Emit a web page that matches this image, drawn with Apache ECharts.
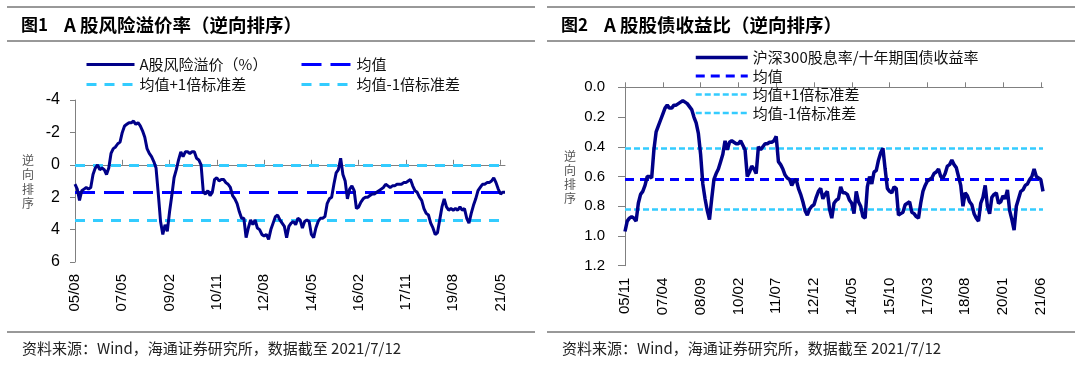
<!DOCTYPE html>
<html><head><meta charset="utf-8">
<script src="https://cdn.jsdelivr.net/npm/echarts@6/dist/echarts.min.js"></script>
<style>html,body{margin:0;padding:0;background:#fff;}#c{width:1080px;height:365px;}</style>
</head><body><div id="c"></div>
<script>
// ---------- Figure 1: A-share equity risk premium (reversed) ----------
const erpStartYear = 2005, erpStartMonth = 8;
const erpValues = [
 1.2, 1.5, 2.2, 1.6, 1.5, 1.4, 1.5, 1.4, 0.6, 0.2,
 0.0, 0.3, 0.2, 0.3, 0.6, 0.2, -0.7, -1.0, -1.1, -1.3,
 -1.4, -2.0, -2.4, -2.5, -2.6, -2.6, -2.7, -2.5, -2.6, -2.4,
 -2.1, -1.7, -1.0, -0.7, -0.5, -0.2, 0.2, 1.8, 3.5, 4.3,
 3.7, 4.1, 2.9, 1.9, 0.8, 0.3, -0.3, -0.8, -0.5, -0.8,
 -0.8, -0.7, -0.8, -0.8, -0.4, -0.3, 0.0, 1.7, 1.8, 1.6,
 1.9, 1.7, 0.9, 0.8, 1.0, 0.9, 0.9, 1.1, 1.2, 1.4,
 1.9, 2.1, 2.4, 2.9, 3.3, 3.3, 4.5, 3.9, 3.4, 3.7,
 3.4, 3.9, 4.0, 4.3, 4.4, 4.3, 4.6, 4.0, 3.6, 3.2,
 3.1, 3.4, 3.6, 3.8, 4.5, 3.8, 3.6, 3.5, 3.7, 3.3,
 3.4, 3.9, 3.5, 3.4, 3.5, 4.3, 4.5, 3.9, 3.5, 3.3,
 3.3, 3.2, 2.4, 2.1, 2.0, 1.2, 0.5, 0.3, -0.4, 0.6,
 1.0, 2.1, 1.5, 1.3, 1.6, 2.7, 2.6, 2.3, 2.1, 2.0,
 2.0, 1.9, 1.8, 1.8, 1.7, 1.6, 1.5, 1.4, 1.2, 1.3,
 1.4, 1.3, 1.3, 1.2, 1.2, 1.2, 1.1, 1.1, 1.0, 0.9,
 1.3, 1.6, 1.7, 2.0, 2.2, 2.7, 3.0, 3.1, 3.6, 3.9,
 4.3, 4.2, 3.4, 2.6, 2.1, 2.6, 2.8, 2.7, 2.8, 2.7,
 2.8, 2.6, 2.8, 2.7, 3.3, 3.6, 3.0, 2.5, 2.1, 1.6,
 1.4, 1.2, 1.2, 1.1, 1.1, 1.0, 0.8, 1.1, 1.5, 1.8,
 1.7, 1.7
];
const erpMean = 1.71;
const erpPlusStd = 3.42;
const erpMinusStd = 0.0;
const erpAxis = { min: -4, max: 6, step: 2 };

// ---------- Figure 2: dividend yield / 10Y bond yield (reversed) ----------
const dbStartYear = 2005, dbStartMonth = 11;
const dbValues = [
 0.97, 0.90, 0.88, 0.87, 0.88, 0.90, 0.78, 0.72, 0.70, 0.66,
 0.60, 0.60, 0.61, 0.42, 0.30, 0.26, 0.22, 0.18, 0.14, 0.12,
 0.14, 0.14, 0.12, 0.12, 0.11, 0.10, 0.09, 0.10, 0.11, 0.13,
 0.15, 0.20, 0.24, 0.31, 0.45, 0.65, 0.75, 0.83, 0.89, 0.75,
 0.62, 0.58, 0.55, 0.50, 0.45, 0.36, 0.42, 0.37, 0.36, 0.37,
 0.38, 0.38, 0.36, 0.39, 0.42, 0.60, 0.57, 0.53, 0.55, 0.58,
 0.40, 0.42, 0.40, 0.38, 0.38, 0.37, 0.37, 0.36, 0.33, 0.50,
 0.52, 0.55, 0.59, 0.61, 0.62, 0.66, 0.63, 0.62, 0.68, 0.72,
 0.77, 0.83, 0.86, 0.82, 0.80, 0.79, 0.74, 0.70, 0.68, 0.75,
 0.72, 0.70, 0.82, 0.88, 0.78, 0.76, 0.75, 0.67, 0.71, 0.71,
 0.72, 0.76, 0.78, 0.85, 0.70, 0.77, 0.80, 0.87, 0.88, 0.67,
 0.60, 0.65, 0.57, 0.56, 0.49, 0.44, 0.41, 0.55, 0.68, 0.70,
 0.71, 0.67, 0.68, 0.86, 0.85, 0.84, 0.79, 0.78, 0.77, 0.84,
 0.85, 0.87, 0.88, 0.78, 0.70, 0.66, 0.63, 0.62, 0.61, 0.58,
 0.57, 0.55, 0.60, 0.61, 0.58, 0.53, 0.52, 0.49, 0.52, 0.54,
 0.60, 0.66, 0.80, 0.71, 0.73, 0.77, 0.79, 0.85, 0.88, 0.90,
 0.78, 0.74, 0.66, 0.80, 0.85, 0.74, 0.72, 0.71, 0.78, 0.77,
 0.73, 0.75, 0.69, 0.83, 0.89, 0.96, 0.80, 0.75, 0.70, 0.69,
 0.66, 0.65, 0.62, 0.60, 0.55, 0.60, 0.61, 0.62, 0.70
];
const dbMean = 0.617;
const dbPlusStd = 0.825;
const dbMinusStd = 0.409;
const dbAxis = { min: 0, max: 1.2, step: 0.2 };

// ---------- texts ----------
const title1Num = '图1', title1Text = 'A 股风险溢价率（逆向排序）';
const title2Num = '图2', title2Text = 'A 股股债收益比（逆向排序）';
const source = '资料来源：Wind，海通证券研究所，数据截至 2021/7/12';
const sideLabel = '逆\n向\n排\n序';
const names1 = ['A股风险溢价（%）', '均值', '均值+1倍标准差', '均值-1倍标准差'];
const names2 = ['沪深300股息率/十年期国债收益率', '均值', '均值+1倍标准差', '均值-1倍标准差'];

function monthLabels(y, m, n) {
  const out = [];
  for (let i = 0; i < n; i++) {
    const t = (y * 12 + (m - 1)) + i;
    const yy = Math.floor(t / 12) % 100, mm = t % 12 + 1;
    out.push(String(yy).padStart(2, '0') + '/' + String(mm).padStart(2, '0'));
  }
  return out;
}
const erpCats = monthLabels(erpStartYear, erpStartMonth, erpValues.length);
const dbCats = monthLabels(dbStartYear, dbStartMonth, dbValues.length);

const NAVY = '#000088', BLUE = '#0000FF', CYAN = '#33CCFF';
const CJK = '"Noto Sans CJK SC", sans-serif';
const LAT = '"Liberation Sans", Arial, sans-serif';

const ids1 = ['erp', 'erpMean', 'erpPlus', 'erpMinus'];
const ids2 = ['db', 'dbMean', 'dbPlus', 'dbMinus'];
const display = {};
ids1.forEach((k, i) => display[k] = names1[i]);
ids2.forEach((k, i) => display[k] = names2[i]);

const st = {
  erp: { color: NAVY, width: 3, type: 'solid' },
  erpMean: { color: BLUE, width: 3, type: [20, 9] },
  erpPlus: { color: CYAN, width: 3, type: [10, 8] },
  erpMinus: { color: CYAN, width: 3, type: [10, 8] },
  db: { color: NAVY, width: 3.5, type: 'solid' },
  dbMean: { color: BLUE, width: 3, type: [9, 6] },
  dbPlus: { color: CYAN, width: 2.5, type: [6, 3] },
  dbMinus: { color: CYAN, width: 2.5, type: [6, 3] }
};

function refSeries(id, xi, value) {
  return {
    id: id, name: id, type: 'line', xAxisIndex: xi, yAxisIndex: xi, data: [],
    symbol: 'none', lineStyle: st[id], itemStyle: { color: st[id].color },
    markLine: {
      silent: true, symbol: ['none', 'none'], label: { show: false },
      lineStyle: st[id], animation: false,
      data: [{ yAxis: value }]
    }
  };
}

function legendData(list) {
  return list.map(k => ({ name: k, lineStyle: st[k], itemStyle: { color: st[k].color, opacity: 0 } }));
}
const legendText = { fontFamily: CJK, fontSize: 15, color: '#111' };
function legend(list, left, top, w, gap) {
  return {
    orient: 'vertical', left: left, top: top, itemWidth: w, itemHeight: 14, itemGap: gap,
    selectedMode: false, data: legendData(list), textStyle: legendText,
    formatter: n => display[n], padding: 0
  };
}

function xAxis(grid, cats, every) {
  return {
    type: 'category', gridIndex: grid, data: cats, boundaryGap: false,
    axisLine: { lineStyle: { color: '#808080', width: 1 } },
    axisTick: { inside: true, length: 5, interval: every - 1, lineStyle: { color: '#808080' } },
    axisLabel: { interval: every - 1, rotate: 90, margin: 12, fontSize: 15, fontFamily: LAT, color: '#000' },
    splitLine: { show: false }
  };
}
function yAxis(grid, ax, margin, tickLen, dec, fs) {
  return {
    type: 'value', gridIndex: grid, inverse: true, min: ax.min, max: ax.max, interval: ax.step,
    axisLine: { show: true, lineStyle: { color: '#808080', width: 1 } },
    axisTick: { show: true, length: tickLen, lineStyle: { color: '#808080' } },
    axisLabel: { margin: margin, fontSize: fs, fontFamily: LAT, color: '#000',
      formatter: v => dec ? v.toFixed(dec) : String(Math.round(v)) },
    splitLine: { show: false }
  };
}

function rule(x1, x2, y) {
  return { type: 'line', silent: true, shape: { x1: x1, y1: y, x2: x2, y2: y }, style: { stroke: '#333', lineWidth: 1 } };
}
function text(t, x, y, font, fill, align, valign, lh) {
  return { type: 'text', silent: true, x: x, y: y,
    style: { text: t, font: font, fill: fill, align: align || 'left', verticalAlign: valign || 'middle', lineHeight: lh } };
}

const chart = echarts.init(document.getElementById('c'), null, { renderer: 'canvas' });
chart.setOption({
  animation: false,
  backgroundColor: '#fff',
  grid: [
    { left: 75, top: 100, width: 430, height: 162 },
    { left: 625, top: 87.3, width: 418, height: 178.4 }
  ],
  xAxis: [xAxis(0, erpCats, 21), xAxis(1, dbCats, 17)],
  yAxis: [yAxis(0, erpAxis, 15, 5, 0, 16), yAxis(1, dbAxis, 20, 7, 1, 15)],
  legend: [
    legend(['erp', 'erpPlus'], 85, 57, 48, 5),
    legend(['erpMean', 'erpMinus'], 300, 57, 50, 5),
    legend(['db', 'dbMean', 'dbPlus', 'dbMinus'], 694, 50, 52, 3.5)
  ],
  series: [
    refSeries('erpPlus', 0, erpPlusStd),
    refSeries('erpMinus', 0, erpMinusStd),
    refSeries('erpMean', 0, erpMean),
    { id: 'erp', name: 'erp', type: 'line', xAxisIndex: 0, yAxisIndex: 0, data: erpValues,
      symbol: 'none', lineStyle: st.erp, itemStyle: { color: NAVY }, z: 5 },
    refSeries('dbPlus', 1, dbPlusStd),
    refSeries('dbMinus', 1, dbMinusStd),
    refSeries('dbMean', 1, dbMean),
    { id: 'db', name: 'db', type: 'line', xAxisIndex: 1, yAxisIndex: 1, data: dbValues,
      symbol: 'none', lineStyle: st.db, itemStyle: { color: NAVY }, z: 5 }
  ],
  graphic: [
    rule(7, 535, 7), rule(7, 535, 41), rule(7, 535, 332),
    rule(547, 1075, 7), rule(547, 1075, 41), rule(547, 1075, 332),
    text(title1Num, 21, 25, 'bold 17px ' + CJK, '#000'),
    text(title1Text, 64, 25, 'bold 18.5px ' + CJK, '#000'),
    text(title2Num, 561, 25, 'bold 17px ' + CJK, '#000'),
    text(title2Text, 604, 25, 'bold 18.5px ' + CJK, '#000'),
    text(source, 22, 348, '15px ' + CJK, '#222'),
    text(source, 562, 348, '15px ' + CJK, '#222'),
    text(sideLabel, 28, 153, '12px ' + CJK, '#555', 'center', 'top', 14.5),
    text(sideLabel, 570, 149, '12px ' + CJK, '#555', 'center', 'top', 14)
  ]
});
</script>
</body></html>
